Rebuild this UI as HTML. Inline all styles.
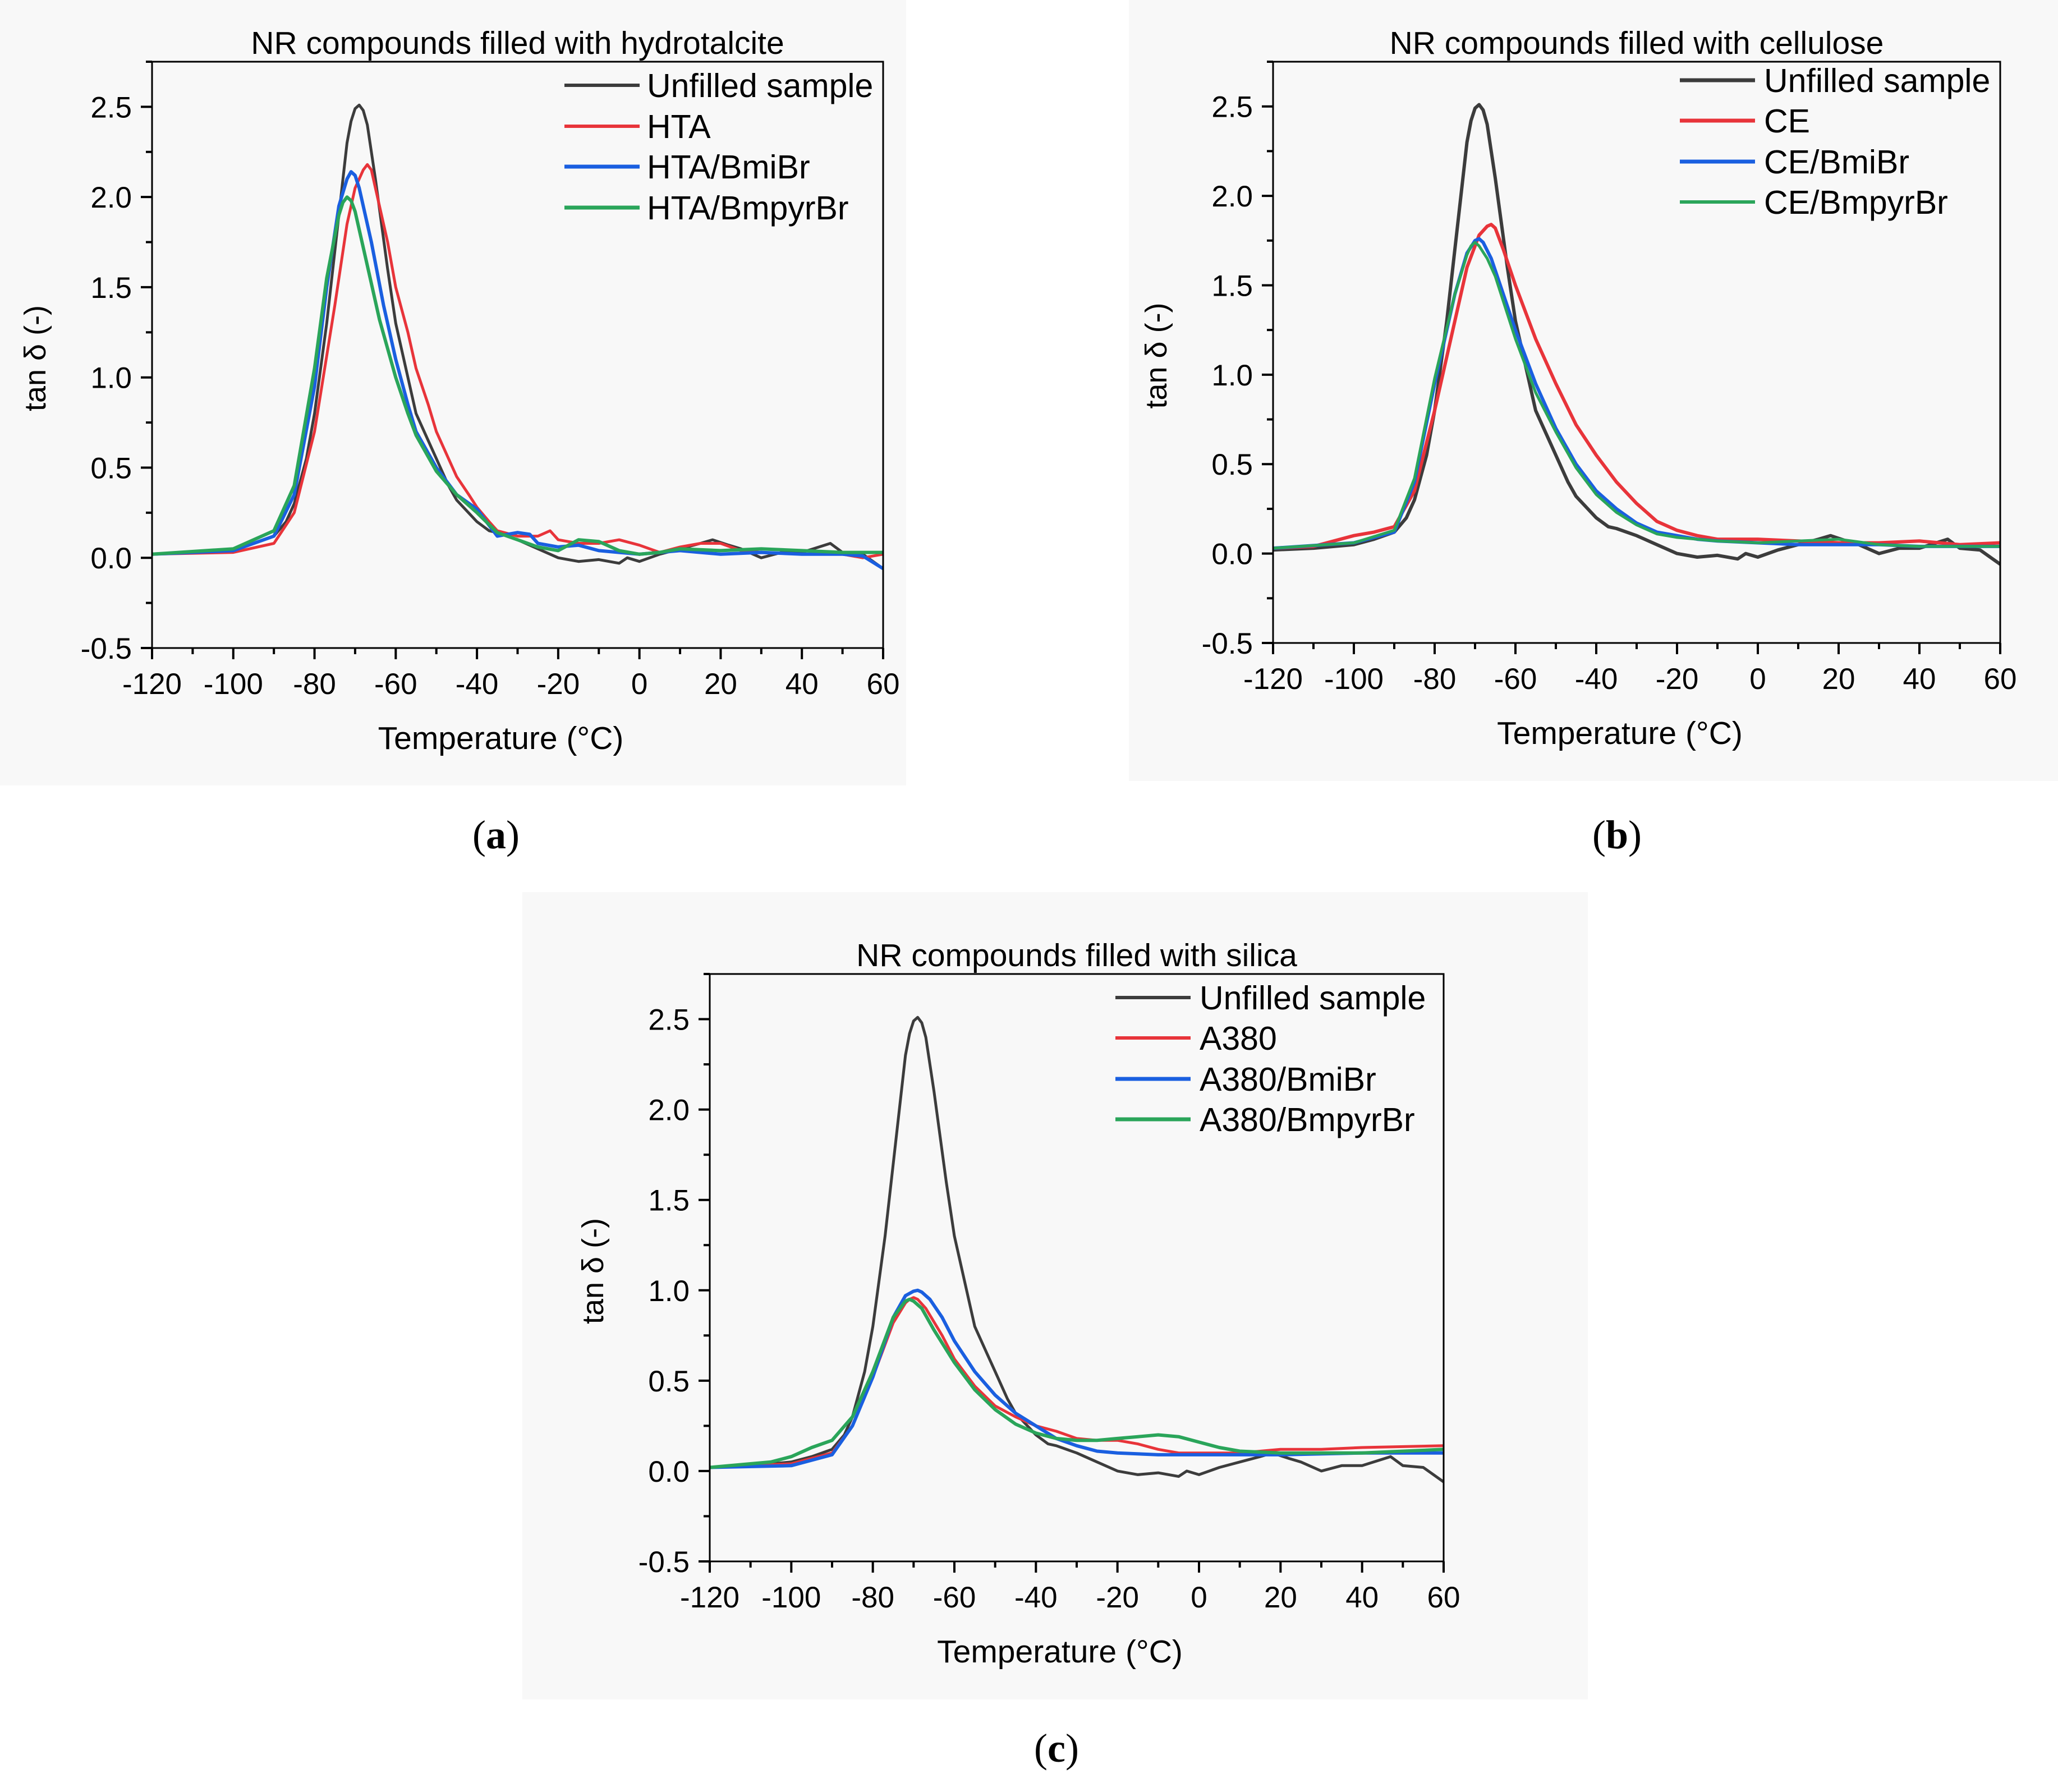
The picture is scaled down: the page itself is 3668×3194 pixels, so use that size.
<!DOCTYPE html>
<html><head><meta charset="utf-8"><style>
html,body{margin:0;padding:0;background:#fff;}
svg{display:block;font-family:"Liberation Sans",sans-serif;}
</style></head><body>
<svg id="fig" width="3668" height="3194" viewBox="0 0 3668 3194" xmlns="http://www.w3.org/2000/svg">
<rect x="0" y="0" width="1615" height="1400" fill="#f8f8f8"/>
<rect x="2012" y="0" width="1656" height="1392" fill="#f8f8f8"/>
<rect x="931" y="1590" width="1899" height="1439" fill="#f8f8f8"/>
<text x="884" y="1512" font-family="Liberation Serif,serif" font-size="72" text-anchor="middle">(<tspan font-weight="bold">a</tspan>)</text>
<text x="2882" y="1512" font-family="Liberation Serif,serif" font-size="72" text-anchor="middle">(<tspan font-weight="bold">b</tspan>)</text>
<text x="1883" y="3140" font-family="Liberation Serif,serif" font-size="72" text-anchor="middle">(<tspan font-weight="bold">c</tspan>)</text>
</svg>
<script>
const xTicks=[-120,-100,-80,-60,-40,-20,0,20,40,60];
const yTicks=[-0.5,0.0,0.5,1.0,1.5,2.0,2.5];
const colors=["#3c3c3c","#e8343a","#1a5fe0","#2aa55a"];
const unfT=[-120,-110,-100,-95,-90,-87,-85,-82,-80,-77,-74,-72,-71,-70,-69,-68,-67,-65,-62,-60,-57,-55,-52,-50,-47,-45,-40,-37,-35,-30,-25,-20,-15,-10,-5,-3,0,5,10,15,18,22,25,30,35,40,47,50,55,60];
const unfY=[0.02,0.03,0.05,0.08,0.12,0.2,0.3,0.55,0.8,1.3,1.9,2.3,2.42,2.49,2.51,2.48,2.4,2.1,1.6,1.3,1.0,0.8,0.65,0.55,0.4,0.32,0.2,0.15,0.14,0.1,0.05,0.0,-0.02,-0.01,-0.03,0.0,-0.02,0.02,0.05,0.08,0.1,0.07,0.05,0.0,0.03,0.03,0.08,0.03,0.02,-0.06];
const htaT=[-120,-100,-90,-85,-80,-75,-72,-70,-69,-68,-67,-66,-65,-62,-60,-57,-55,-52,-50,-47,-45,-42,-40,-37,-35,-30,-25,-22,-20,-15,-10,-5,0,5,10,15,20,25,30,40,50,55,60];
const htaY=[0.02,0.03,0.08,0.25,0.7,1.4,1.85,2.05,2.1,2.15,2.18,2.15,2.05,1.75,1.5,1.25,1.05,0.85,0.7,0.55,0.45,0.35,0.28,0.2,0.15,0.12,0.12,0.15,0.1,0.08,0.08,0.1,0.07,0.03,0.06,0.08,0.08,0.04,0.03,0.02,0.02,0.0,0.02];
const htaBmiT=[-120,-100,-90,-85,-80,-77,-74,-72,-71,-70,-69,-66,-63,-60,-57,-55,-50,-45,-40,-37,-35,-30,-27,-25,-20,-15,-10,-5,0,5,10,15,20,30,40,50,55,60];
const htaBmiY=[0.02,0.04,0.12,0.35,0.95,1.5,1.95,2.1,2.14,2.12,2.05,1.75,1.4,1.1,0.85,0.7,0.5,0.35,0.27,0.18,0.12,0.14,0.13,0.08,0.06,0.07,0.04,0.03,0.02,0.03,0.04,0.03,0.02,0.03,0.02,0.02,0.01,-0.06];
const htaBpT=[-120,-100,-90,-85,-80,-77,-74,-73,-72,-71,-70,-67,-64,-60,-57,-55,-50,-45,-40,-35,-30,-25,-20,-15,-10,-5,0,5,10,20,30,40,50,60];
const htaBpY=[0.02,0.05,0.15,0.4,1.05,1.55,1.9,1.97,2.0,1.98,1.92,1.62,1.32,1.0,0.8,0.68,0.48,0.35,0.25,0.14,0.1,0.06,0.04,0.1,0.09,0.04,0.02,0.03,0.05,0.04,0.05,0.04,0.03,0.03];
const ceT=[-120,-110,-100,-95,-90,-85,-80,-75,-72,-69,-67,-66,-65,-63,-60,-55,-50,-45,-40,-35,-30,-25,-20,-15,-10,0,10,20,30,40,50,60];
const ceY=[0.03,0.04,0.1,0.12,0.15,0.35,0.8,1.3,1.6,1.78,1.83,1.84,1.82,1.7,1.5,1.2,0.95,0.72,0.55,0.4,0.28,0.18,0.13,0.1,0.08,0.08,0.07,0.06,0.06,0.07,0.05,0.06];
const ceBmiT=[-120,-100,-90,-85,-80,-75,-72,-70,-69,-68,-66,-63,-60,-55,-50,-45,-40,-35,-30,-25,-20,-15,-10,0,10,20,30,40,50,60];
const ceBmiY=[0.03,0.06,0.12,0.4,0.95,1.45,1.68,1.75,1.76,1.74,1.65,1.45,1.25,0.95,0.7,0.5,0.35,0.25,0.17,0.12,0.1,0.08,0.07,0.06,0.05,0.05,0.05,0.04,0.04,0.04];
const ceBpT=[-120,-100,-90,-85,-80,-75,-72,-71,-70,-69,-67,-65,-60,-55,-50,-45,-40,-35,-30,-25,-20,-15,-10,0,10,20,30,40,50,60];
const ceBpY=[0.03,0.06,0.13,0.42,0.98,1.45,1.67,1.72,1.74,1.72,1.65,1.55,1.2,0.9,0.68,0.48,0.33,0.23,0.16,0.11,0.09,0.08,0.07,0.06,0.07,0.08,0.05,0.04,0.04,0.04];
const aT=[-120,-100,-90,-85,-80,-75,-72,-71,-70,-69,-67,-63,-60,-55,-50,-45,-40,-35,-30,-25,-20,-15,-10,-5,0,10,20,30,40,60];
const aY=[0.02,0.04,0.1,0.25,0.52,0.82,0.93,0.95,0.96,0.95,0.9,0.75,0.62,0.47,0.36,0.3,0.25,0.22,0.18,0.17,0.17,0.15,0.12,0.1,0.1,0.1,0.12,0.12,0.13,0.14];
const aBmiT=[-120,-100,-90,-85,-80,-75,-72,-70,-69,-68,-66,-63,-60,-55,-50,-45,-40,-35,-30,-25,-20,-10,0,20,40,60];
const aBmiY=[0.02,0.03,0.09,0.25,0.52,0.85,0.97,0.995,1.0,0.99,0.95,0.85,0.72,0.55,0.42,0.32,0.25,0.18,0.14,0.11,0.1,0.09,0.09,0.09,0.1,0.1];
const aBpT=[-120,-105,-100,-95,-90,-85,-80,-75,-72,-71,-70,-68,-65,-60,-55,-50,-45,-40,-35,-30,-25,-20,-15,-10,-5,0,5,10,20,40,60];
const aBpY=[0.02,0.05,0.08,0.13,0.17,0.3,0.55,0.85,0.94,0.95,0.94,0.9,0.78,0.6,0.45,0.34,0.26,0.21,0.18,0.17,0.17,0.18,0.19,0.2,0.19,0.16,0.13,0.11,0.1,0.1,0.12];

const NS="http://www.w3.org/2000/svg";
const svg=document.getElementById('fig');
function mk(tag,attrs,parent){const e=document.createElementNS(NS,tag);for(const k in attrs)e.setAttribute(k,attrs[k]);(parent||svg).appendChild(e);return e;}

const panels=[
 {id:'a',L:271,R:1574,T:110,B:1155,title:'NR compounds filled with hydrotalcite',legLine:1006,legText:1153,legY:[152,225,297,370],
  names:['Unfilled sample','HTA','HTA/BmiBr','HTA/BmpyrBr'],
  series:[[unfT,unfY],[htaT,htaY],[htaBmiT,htaBmiY],[htaBpT,htaBpY]],widths:[5,5,6,6]},
 {id:'b',L:2269,R:3565,T:110,B:1146,title:'NR compounds filled with cellulose',legLine:2994,legText:3144,legY:[143,215,288,360],
  names:['Unfilled sample','CE','CE/BmiBr','CE/BmpyrBr'],
  series:[[unfT,unfY],[ceT,ceY],[ceBmiT,ceBmiY],[ceBpT,ceBpY]],widths:[6,6,6,5]},
 {id:'c',L:1265,R:2573,T:1736,B:2783,title:'NR compounds filled with silica',legLine:1988,legText:2138,legY:[1778,1850,1923,1995],
  names:['Unfilled sample','A380','A380/BmiBr','A380/BmpyrBr'],
  series:[[unfT,unfY],[aT,aY],[aBmiT,aBmiY],[aBpT,aBpY]],widths:[5,5,6,6]}
];

panels.forEach(p=>{
 const g=mk('g',{});
 
 
 const sx=t=>p.L+(t+120)/180*(p.R-p.L);
 const sy=v=>p.B-(v+0.5)/3.25*(p.B-p.T);
 p.series.forEach((s,i)=>{
  const pts=s[0].map((t,k)=>sx(t).toFixed(1)+','+sy(s[1][k]).toFixed(1)).join(' ');
  const pl=mk('polyline',{points:pts,fill:'none',stroke:colors[i],'stroke-width':p.widths[i],'stroke-linejoin':'round'},g);
  
  
 });
 const fr=mk('rect',{x:p.L,y:p.T,width:p.R-p.L,height:p.B-p.T,fill:'none',stroke:'#000','stroke-width':3},g);
 
 
 for(let t=-120;t<=60;t+=10){const maj=xTicks.includes(t);
  const tk=mk('line',{x1:sx(t),x2:sx(t),y1:p.B,y2:p.B+(maj?20:11),stroke:'#000','stroke-width':4},g);
  
  }
 xTicks.forEach(t=>{const tx=mk('text',{x:sx(t),y:p.B+82,'font-size':53,'text-anchor':'middle'},g);tx.textContent=String(t);
  
  });
 for(let v=-0.5;v<=2.75;v+=0.25){const maj=Math.abs(v*2-Math.round(v*2))<1e-6;
  const tk=mk('line',{x1:p.L-(maj?20:11),x2:p.L,y1:sy(v),y2:sy(v),stroke:'#000','stroke-width':4},g);
  
  }
 yTicks.forEach(v=>{const tx=mk('text',{x:p.L-36,y:sy(v)+19,'font-size':53,'text-anchor':'end'},g);tx.textContent=v.toFixed(1);
  
  });
 const ti=mk('text',{x:(p.L+p.R)/2,y:p.T-14,'font-size':57,'text-anchor':'middle'},g);ti.textContent=p.title;
 
 
 const xt=mk('text',{x:(p.L+p.R)/2-30,y:p.B+180,'font-size':57,'text-anchor':'middle'},g);xt.textContent='Temperature (°C)';
 
 
 const yx=p.L-190, yy=(p.T+p.B)/2+6;
 const yt=mk('text',{x:yx,y:yy,'font-size':54,'text-anchor':'middle',transform:'rotate(-90 '+yx+' '+yy+')'},g);yt.textContent='tan δ (-)';
 
 
 p.names.forEach((n,i)=>{
  const lg=mk('g',{},g);
  
  
  mk('line',{x1:p.legLine,x2:p.legLine+134,y1:p.legY[i],y2:p.legY[i],stroke:colors[i],'stroke-width':p.widths[i]+1},lg);
  const lt=mk('text',{x:p.legText,y:p.legY[i]+21,'font-size':59},lg);lt.textContent=n;
 });
});
</script>
</body></html>
